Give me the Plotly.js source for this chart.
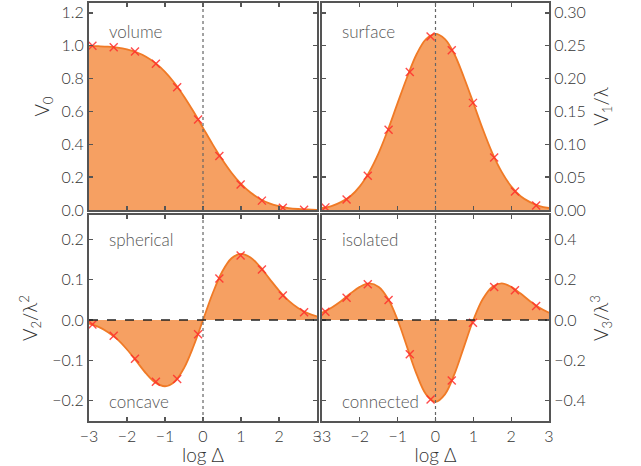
<!DOCTYPE html>
<html>
<head>
<meta charset="utf-8">
<script src="https://cdn.plot.ly/plotly-3.0.1.min.js"></script>
<style>html,body{margin:0;padding:0;background:#fff;}#chart{width:641px;height:466px;}</style>
</head>
<body>
<div id="chart"></div>
<script>
// curve sample positions (log Δ)
const xs = [-3,-2.75,-2.5,-2.25,-2,-1.75,-1.5,-1.25,-1,-0.75,-0.5,-0.25,0,0.25,0.5,0.75,1,1.25,1.5,1.75,2,2.25,2.5,2.75,3];
const v0 = [0.999,0.997,0.994,0.988,0.977,0.960,0.933,0.894,0.841,0.773,0.691,0.599,0.500,0.401,0.309,0.227,0.159,0.106,0.067,0.040,0.023,0.012,0.006,0.003,0.001];
const v1 = [0.003,0.006,0.012,0.021,0.036,0.058,0.087,0.123,0.163,0.202,0.237,0.260,0.268,0.260,0.237,0.202,0.163,0.123,0.087,0.058,0.036,0.021,0.012,0.006,0.003];
const v2 = [-0.009,-0.017,-0.030,-0.048,-0.073,-0.102,-0.132,-0.155,-0.164,-0.153,-0.119,-0.065,0,0.065,0.119,0.153,0.164,0.155,0.132,0.102,0.073,0.048,0.030,0.017,0.009];
const v3 = [0.036,0.061,0.093,0.131,0.164,0.181,0.164,0.104,0,-0.134,-0.268,-0.368,-0.405,-0.368,-0.268,-0.134,0,0.104,0.164,0.181,0.164,0.131,0.093,0.061,0.036];

// sampled (marker) values
const mx = [-2.91,-2.35,-1.79,-1.24,-0.68,-0.13,0.43,0.99,1.55,2.10,2.66];
const m0 = [1.00,0.99,0.965,0.89,0.747,0.551,0.328,0.155,0.057,0.014,0.002];
const m1 = [0.004,0.016,0.052,0.122,0.210,0.264,0.243,0.163,0.080,0.028,0.007];
const m2 = [-0.011,-0.039,-0.096,-0.153,-0.146,-0.035,0.103,0.160,0.125,0.061,0.019];
const m3 = [0.041,0.110,0.177,0.099,-0.169,-0.394,-0.300,-0.013,0.163,0.148,0.069];

const xTicks = [-3,-2,-1,0,1,2,3];
const panelLabels = [["volume",""],["surface",""],["spherical","concave"],["isolated","connected"]];
const yTitles = ["V<sub>0</sub>","V<sub>1</sub>/λ","V<sub>2</sub>/λ<sup>2</sup>","V<sub>3</sub>/λ<sup>3</sup>"];

const FILL = "#f6a062";
const LINE = "#f07a26";
const MARK = "rgba(255,45,45,0.85)";
const FRAME = "#555555";
const FONT = "Lato, 'Open Sans', sans-serif";

const curves = [v0,v1,v2,v3];
const marks = [m0,m1,m2,m3];
const traces = [];
for (let i=0;i<4;i++){
  const ax = i===0 ? "" : String(i+1);
  traces.push({x:xs,y:curves[i],type:"scatter",mode:"lines",line:{color:LINE,width:1.8,shape:"spline"},
    fill:"tozeroy",fillcolor:FILL,xaxis:"x"+ax,yaxis:"y"+ax,hoverinfo:"skip",showlegend:false});
  traces.push({x:mx,y:marks[i],type:"scatter",mode:"markers",
    marker:{symbol:"x-thin",size:8,line:{color:MARK,width:1.4}},xaxis:"x"+ax,yaxis:"y"+ax,showlegend:false});
}

function xa(domain, anchor, labels){
  return {domain:domain, anchor:anchor, range:[-3,3], tickvals:xTicks, ticks:"inside", ticklen:4, tickwidth:1.3,
    tickcolor:FRAME, showline:true, linecolor:FRAME, linewidth:2, mirror:"allticks", showgrid:false, zeroline:false,
    showticklabels:labels, tickfont:{family:FONT,size:16,color:"#333",weight:300},
    title: labels ? {text:"log Δ", font:{family:FONT,size:19,color:"#333",weight:300}, standoff:1} : {text:""}};
}
function ya(domain, anchor, range, dtick, fmt, side, title, standoff){
  return {domain:domain, anchor:anchor, range:range, dtick:dtick, tick0:0, tickformat:fmt, side:side,
    ticks:"inside", ticklen:4, tickwidth:1.3, tickcolor:FRAME, showline:true, linecolor:FRAME, linewidth:2,
    mirror:"allticks", showgrid:false, zeroline:false, tickfont:{family:FONT,size:16,color:"#333",weight:300},
    title:{text:title, font:{family:FONT,size:19,color:"#333",weight:300}, standoff:standoff}};
}

const dL=[0,0.4957], dR=[0.5065,1], dT=[0.5048,1], dB=[0,0.4928];
const layout = {
  width:641, height:466, margin:{l:89,r:92,t:3,b:45}, paper_bgcolor:"#fff", plot_bgcolor:"#fff",
  font:{family:FONT,color:"#333"}, showlegend:false,
  xaxis: xa(dL,"y",false), yaxis: ya(dT,"x",[0,1.26],0.2,".1f","left",yTitles[0],7),
  xaxis2: xa(dR,"y2",false), yaxis2: ya(dT,"x2",[0,0.315],0.05,".2f","right",yTitles[1],10),
  xaxis3: xa(dL,"y3",true), yaxis3: ya(dB,"x3",[-0.25,0.26],0.1,".1f","left",yTitles[2],10),
  xaxis4: xa(dR,"y4",true), yaxis4: ya(dB,"x4",[-0.5,0.52],0.2,".1f","right",yTitles[3],10),
  shapes:[], annotations:[]
};
const axn = ["","2","3","4"];
for (let i=0;i<4;i++){
  layout.shapes.push({type:"line",xref:"x"+axn[i],yref:"y"+axn[i]+" domain",x0:0,x1:0,y0:0,y1:1,
    line:{color:"#666",width:1.2,dash:"dot"}});
  if (i>=2){
    layout.shapes.push({type:"line",xref:"x"+axn[i]+" domain",yref:"y"+axn[i],x0:0,x1:1,y0:0,y1:0,
      line:{color:"#222",width:1.6,dash:"dash"}});
  }
  const top = i<2 ? 0.86 : 0.882;
  layout.annotations.push({text:panelLabels[i][0],xref:"x"+axn[i]+" domain",yref:"y"+axn[i]+" domain",
    x:0.079,y:top,xanchor:"left",yanchor:"middle",showarrow:false,font:{family:FONT,size:17,color:"#555",weight:300}});
  if (panelLabels[i][1]){
    layout.annotations.push({text:panelLabels[i][1],xref:"x"+axn[i]+" domain",yref:"y"+axn[i]+" domain",
      x:0.079,y:0.094,xanchor:"left",yanchor:"middle",showarrow:false,font:{family:FONT,size:17,color:"#555",weight:300}});
  }
}
Plotly.newPlot("chart",traces,layout,{staticPlot:true,displayModeBar:false});
</script>
</body>
</html>
